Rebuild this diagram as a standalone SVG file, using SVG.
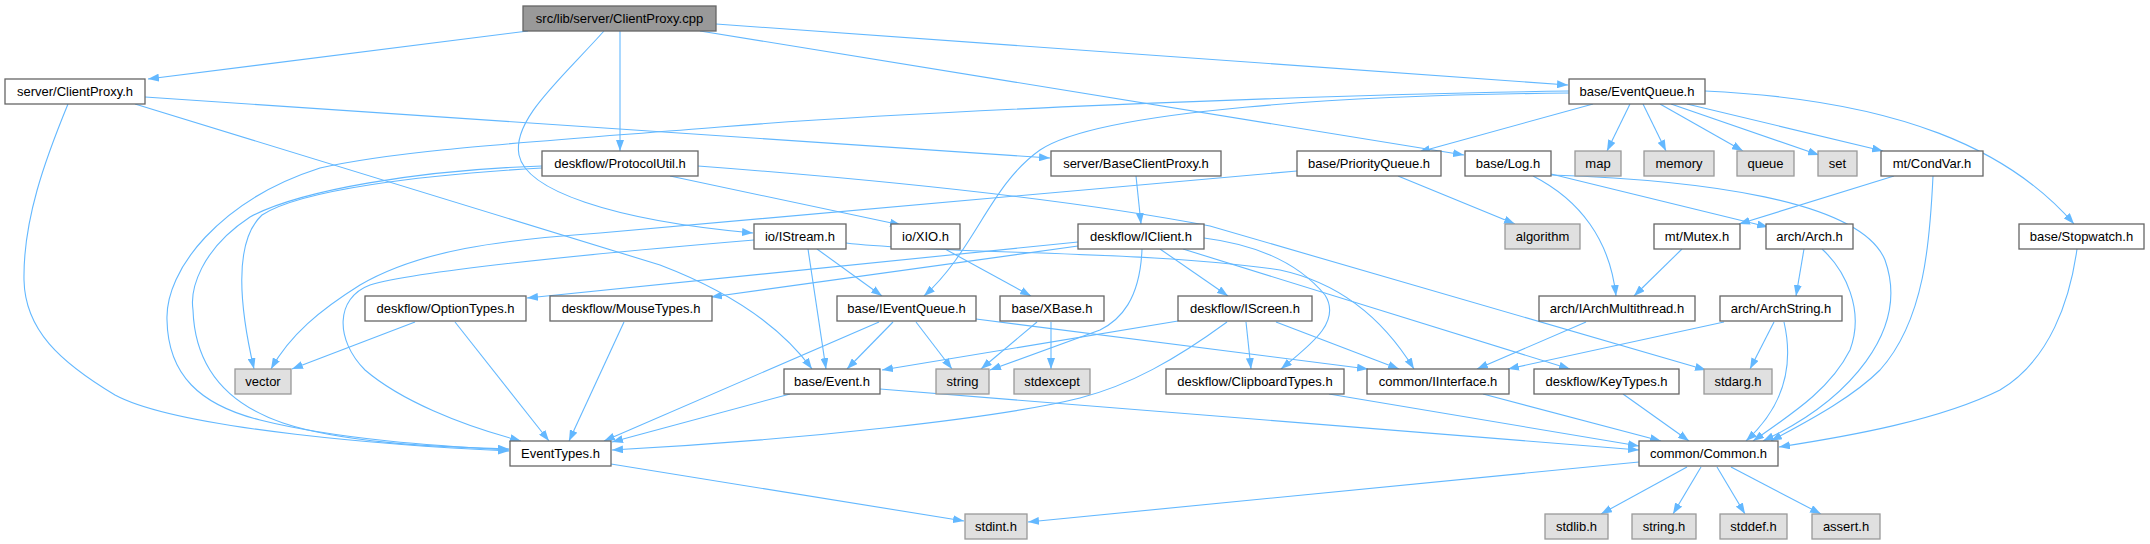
<svg xmlns="http://www.w3.org/2000/svg" width="2150" height="544" viewBox="0 0 2150 544">
<style>
.node rect{fill:#ffffff;stroke:#666666;stroke-width:1.3}
.node.ext rect{fill:#e0e0e0;stroke:#999999}
.node.root rect{fill:#999999;stroke:#666666}
.node text{font-family:"Liberation Sans",Arial,sans-serif;font-size:13px;fill:#000000;text-anchor:middle}
.edges path{fill:none;stroke:#63b8ff;stroke-width:1.1;marker-end:url(#arr)}
</style>
<defs>
<marker id="arr" markerWidth="11" markerHeight="8" refX="11" refY="4" orient="auto" markerUnits="userSpaceOnUse">
<path d="M0,0 L11,4 L0,8 z" fill="#63b8ff" stroke="none"/>
</marker>
</defs>
<rect width="2150" height="544" fill="#ffffff"/>
<g class="edges">
<path d="M528,31 L148,79"/>
<path d="M620,31 L620,151"/>
<path d="M604,31 C560,80 512,120 519,155 C526,190 610,220 753,233"/>
<path d="M716,24 L1568,85"/>
<path d="M700,31 L1464,155"/>
<path d="M68,104 C45,160 23,220 24,280 C25,330 60,362 115,395 C180,430 400,446 509,451"/>
<path d="M135,104 L660,265 Q765,305 812,369"/>
<path d="M145,97 L1050,158"/>
<path d="M542,166 C420,170 300,190 250,217 C200,250 190,290 193,310 C195,370 230,405 283,423 C340,442 430,447 509,449"/>
<path d="M542,168 C420,175 300,190 262,215 C235,240 238,300 254,369"/>
<path d="M670,176 L901,225"/>
<path d="M698,166 C950,185 1100,205 1210,226 L1706,370"/>
<path d="M1569,91 C1300,95 900,112 720,127 C520,143 400,150 320,168 C220,200 165,270 167,320 C168,375 200,405 260,420 C340,440 440,446 509,450"/>
<path d="M1569,93 C1350,95 1100,110 1040,150 C990,185 975,250 924,296"/>
<path d="M1593,104 L1419,152"/>
<path d="M1630,104 L1607,151"/>
<path d="M1643,104 L1666,151"/>
<path d="M1660,104 L1743,151"/>
<path d="M1671,104 L1819,155"/>
<path d="M1687,104 L1883,151"/>
<path d="M1705,91 C1900,100 2010,150 2074,224"/>
<path d="M1136,176 L1141,224"/>
<path d="M1297,171 L600,233 C500,240 420,250 360,285 C320,310 290,335 271,369"/>
<path d="M1398,176 L1515,224"/>
<path d="M754,240 C600,253 420,270 370,285 C335,298 335,340 365,370 C400,400 460,425 521,441"/>
<path d="M808,249 L826,369"/>
<path d="M817,249 L882,296"/>
<path d="M846,243 C950,255 1150,250 1280,270 C1350,285 1390,330 1414,369"/>
<path d="M1078,242 L527,298"/>
<path d="M1078,246 L711,297"/>
<path d="M1142,249 C1140,300 1120,320 1100,330 L990,370"/>
<path d="M1160,249 L1228,296"/>
<path d="M1183,249 L1570,369"/>
<path d="M1204,238 C1260,245 1300,265 1325,295 C1342,322 1310,345 1281,369"/>
<path d="M945,249 L1031,296"/>
<path d="M879,322 L604,441"/>
<path d="M893,322 L847,369"/>
<path d="M916,322 L952,369"/>
<path d="M976,319 L1368,369"/>
<path d="M1037,322 L981,369"/>
<path d="M1051,322 L1051,369"/>
<path d="M1178,321 L882,370"/>
<path d="M1227,322 C1175,360 1130,385 1080,398 C1000,418 800,440 612,450"/>
<path d="M1246,322 L1251,369"/>
<path d="M1276,322 L1399,369"/>
<path d="M790,394 L612,442"/>
<path d="M880,389 L1639,450"/>
<path d="M1329,394 L1639,446"/>
<path d="M1483,394 L1661,441"/>
<path d="M1623,394 L1689,441"/>
<path d="M611,464 L964,521"/>
<path d="M1639,462 L1028,522"/>
<path d="M1687,467 L1601,514"/>
<path d="M1701,467 L1673,514"/>
<path d="M1717,467 L1745,514"/>
<path d="M1731,467 L1821,514"/>
<path d="M1586,322 L1477,369"/>
<path d="M1724,322 L1508,369"/>
<path d="M1774,322 L1750,369"/>
<path d="M1784,322 C1795,370 1780,410 1746,441"/>
<path d="M1804,249 L1796,296"/>
<path d="M1822,249 C1845,270 1865,310 1850,350 C1830,390 1790,415 1753,441"/>
<path d="M1533,176 C1580,200 1610,240 1616,296"/>
<path d="M1551,174 L1768,227"/>
<path d="M1551,175 C1700,180 1860,200 1885,260 C1910,330 1850,400 1763,441"/>
<path d="M1894,176 L1739,224"/>
<path d="M1933,176 C1930,240 1925,320 1880,370 C1850,400 1800,425 1771,441"/>
<path d="M2077,249 C2070,300 2050,360 2000,390 C1940,420 1850,436 1779,447"/>
<path d="M1682,249 L1634,296"/>
<path d="M415,322 L292,369"/>
<path d="M455,322 L549,441"/>
<path d="M624,322 L569,441"/>
</g>
<g id="n_cpp" class="node root"><rect x="523" y="6" width="193" height="25"/><text x="619.5" y="23">src/lib/server/ClientProxy.cpp</text></g>
<g id="n_scp" class="node"><rect x="5" y="79" width="140" height="25"/><text x="75" y="96">server/ClientProxy.h</text></g>
<g id="n_eq" class="node"><rect x="1569" y="79" width="136" height="25"/><text x="1637" y="96">base/EventQueue.h</text></g>
<g id="n_pu" class="node"><rect x="542" y="151" width="156" height="25"/><text x="620" y="168">deskflow/ProtocolUtil.h</text></g>
<g id="n_bcp" class="node"><rect x="1051" y="151" width="170" height="25"/><text x="1136" y="168">server/BaseClientProxy.h</text></g>
<g id="n_pq" class="node"><rect x="1297" y="151" width="144" height="25"/><text x="1369" y="168">base/PriorityQueue.h</text></g>
<g id="n_log" class="node"><rect x="1465" y="151" width="86" height="25"/><text x="1508" y="168">base/Log.h</text></g>
<g id="n_map" class="node ext"><rect x="1575" y="151" width="46" height="25"/><text x="1598" y="168">map</text></g>
<g id="n_memory" class="node ext"><rect x="1644" y="151" width="70" height="25"/><text x="1679" y="168">memory</text></g>
<g id="n_queue" class="node ext"><rect x="1737" y="151" width="57" height="25"/><text x="1765.5" y="168">queue</text></g>
<g id="n_set" class="node ext"><rect x="1818" y="151" width="39" height="25"/><text x="1837.5" y="168">set</text></g>
<g id="n_condvar" class="node"><rect x="1881" y="151" width="102" height="25"/><text x="1932" y="168">mt/CondVar.h</text></g>
<g id="n_istream" class="node"><rect x="754" y="224" width="92" height="25"/><text x="800" y="241">io/IStream.h</text></g>
<g id="n_xio" class="node"><rect x="891" y="224" width="69" height="25"/><text x="925.5" y="241">io/XIO.h</text></g>
<g id="n_iclient" class="node"><rect x="1078" y="224" width="126" height="25"/><text x="1141" y="241">deskflow/IClient.h</text></g>
<g id="n_algorithm" class="node ext"><rect x="1505" y="224" width="75" height="25"/><text x="1542.5" y="241">algorithm</text></g>
<g id="n_mutex" class="node"><rect x="1654" y="224" width="86" height="25"/><text x="1697" y="241">mt/Mutex.h</text></g>
<g id="n_arch" class="node"><rect x="1766" y="224" width="87" height="25"/><text x="1809.5" y="241">arch/Arch.h</text></g>
<g id="n_stopwatch" class="node"><rect x="2019" y="224" width="125" height="25"/><text x="2081.5" y="241">base/Stopwatch.h</text></g>
<g id="n_optiontypes" class="node"><rect x="365" y="296" width="161" height="25"/><text x="445.5" y="313">deskflow/OptionTypes.h</text></g>
<g id="n_mousetypes" class="node"><rect x="550" y="296" width="162" height="25"/><text x="631" y="313">deskflow/MouseTypes.h</text></g>
<g id="n_ieventqueue" class="node"><rect x="837" y="296" width="139" height="25"/><text x="906.5" y="313">base/IEventQueue.h</text></g>
<g id="n_xbase" class="node"><rect x="1000" y="296" width="104" height="25"/><text x="1052" y="313">base/XBase.h</text></g>
<g id="n_iscreen" class="node"><rect x="1178" y="296" width="134" height="25"/><text x="1245" y="313">deskflow/IScreen.h</text></g>
<g id="n_iarchmt" class="node"><rect x="1539" y="296" width="156" height="25"/><text x="1617" y="313">arch/IArchMultithread.h</text></g>
<g id="n_archstring" class="node"><rect x="1720" y="296" width="122" height="25"/><text x="1781" y="313">arch/ArchString.h</text></g>
<g id="n_vector" class="node ext"><rect x="235" y="369" width="56" height="25"/><text x="263" y="386">vector</text></g>
<g id="n_event" class="node"><rect x="784" y="369" width="96" height="25"/><text x="832" y="386">base/Event.h</text></g>
<g id="n_string" class="node ext"><rect x="936" y="369" width="53" height="25"/><text x="962.5" y="386">string</text></g>
<g id="n_stdexcept" class="node ext"><rect x="1014" y="369" width="76" height="25"/><text x="1052" y="386">stdexcept</text></g>
<g id="n_clipboard" class="node"><rect x="1166" y="369" width="178" height="25"/><text x="1255" y="386">deskflow/ClipboardTypes.h</text></g>
<g id="n_iinterface" class="node"><rect x="1367" y="369" width="142" height="25"/><text x="1438" y="386">common/IInterface.h</text></g>
<g id="n_keytypes" class="node"><rect x="1534" y="369" width="145" height="25"/><text x="1606.5" y="386">deskflow/KeyTypes.h</text></g>
<g id="n_stdarg" class="node ext"><rect x="1704" y="369" width="68" height="25"/><text x="1738" y="386">stdarg.h</text></g>
<g id="n_eventtypes" class="node"><rect x="510" y="441" width="101" height="25"/><text x="560.5" y="458">EventTypes.h</text></g>
<g id="n_common" class="node"><rect x="1639" y="441" width="139" height="25"/><text x="1708.5" y="458">common/Common.h</text></g>
<g id="n_stdint" class="node ext"><rect x="965" y="514" width="62" height="25"/><text x="996" y="531">stdint.h</text></g>
<g id="n_stdlib" class="node ext"><rect x="1545" y="514" width="63" height="25"/><text x="1576.5" y="531">stdlib.h</text></g>
<g id="n_stringh" class="node ext"><rect x="1632" y="514" width="64" height="25"/><text x="1664" y="531">string.h</text></g>
<g id="n_stddef" class="node ext"><rect x="1720" y="514" width="67" height="25"/><text x="1753.5" y="531">stddef.h</text></g>
<g id="n_assert" class="node ext"><rect x="1812" y="514" width="68" height="25"/><text x="1846" y="531">assert.h</text></g>
</svg>
